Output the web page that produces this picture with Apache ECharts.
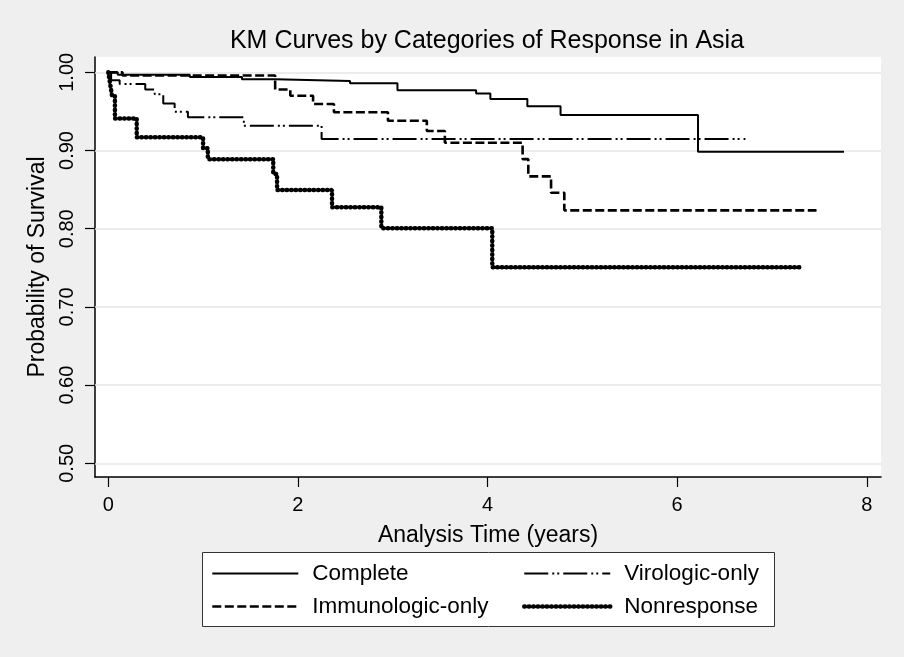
<!DOCTYPE html>
<html><head><meta charset="utf-8">
<script src="https://cdn.jsdelivr.net/npm/echarts@6/dist/echarts.min.js"></script>
<style>html,body{margin:0;padding:0;background:#efefef}#c{width:904px;height:657px}</style>
</head><body><div id="c"></div>
<script>
const chartTitle = 'KM Curves by Categories of Response in Asia';
const xAxisTitle = 'Analysis Time (years)';
const yAxisTitle = 'Probability of Survival';
const xTicks = [0, 2, 4, 6, 8];
const yTicks = [0.5, 0.6, 0.7, 0.8, 0.9, 1.0];
const seriesNames = ['Complete', 'Immunologic-only', 'Virologic-only', 'Nonresponse'];

const completeT = [0, 0.10, 0.86, 1.41, 1.76, 2.55, 3.05, 3.88, 4.03, 4.42, 4.77, 6.22, 7.76];
const completeS = [1.000, 0.997, 0.994, 0.991, 0.989, 0.986, 0.977, 0.973, 0.966, 0.9565, 0.9454, 0.8985, 0.8985];

const immunoT = [0, 0.15, 1.76, 1.92, 2.16, 2.38, 2.95, 3.36, 3.55, 4.37, 4.43, 4.67, 4.81, 7.47];
const immunoS = [1.000, 0.996, 0.978, 0.970, 0.9595, 0.949, 0.938, 0.925, 0.910, 0.889, 0.867, 0.846, 0.8235, 0.8235];

const viroT = [0, 0.03, 0.12, 0.39, 0.49, 0.58, 0.70, 0.84, 1.43, 2.25, 6.72];
const viroS = [1.000, 0.990, 0.985, 0.978, 0.972, 0.960, 0.9496, 0.9425, 0.9317, 0.9147, 0.9147];

const nonrespT = [0, 0.02, 0.04, 0.07, 0.30, 1.00, 1.05, 1.74, 1.78, 2.36, 2.88, 4.05, 7.29];
const nonrespS = [1.000, 0.985, 0.970, 0.941, 0.917, 0.903, 0.889, 0.870, 0.8495, 0.8274, 0.8005, 0.7506, 0.7506];

const zip = (t, s) => t.map((v, i) => [v, s[i]]);
const FONT = '"Liberation Sans", Arial, Helvetica, sans-serif';

const styles = {
  'Complete': { width: 2, type: 'solid' },
  'Immunologic-only': { width: 2.6, type: [9, 3.5] },
  'Virologic-only': { width: 2, type: [24, 4, 2, 3, 2, 4] },
  'Nonresponse': { width: 4.5, type: [0.5, 4], cap: 'round' }
};

const chart = echarts.init(document.getElementById('c'));

function km(name, t, s, z) {
  return {
    name: name, type: 'line', step: 'end', data: zip(t, s),
    symbol: 'none', showSymbol: false, animation: false, z: z,
    lineStyle: Object.assign({ color: '#000' }, styles[name]),
    itemStyle: { color: '#000' }
  };
}

function legendItem(name) {
  return { name: name, itemStyle: { opacity: 0, color: 'rgba(0,0,0,0)', borderWidth: 0 },
    lineStyle: Object.assign({ color: '#000', opacity: 1 }, styles[name]) };
}

const legendCommon = {
  orient: 'vertical', padding: 0, itemWidth: 86, itemHeight: 14, itemGap: 10,
  selectedMode: false,
  textStyle: { fontFamily: FONT, fontSize: 22.5, color: '#000', lineHeight: 22, padding: [0, 0, 0, 9] }
};

chart.setOption({
  backgroundColor: '#efefef',
  animation: false,
  grid: { left: 95, right: 23, top: 57, bottom: 180, show: true, backgroundColor: '#ffffff', borderWidth: 0 },
  xAxis: {
    type: 'value', min: -0.14, max: 8.15,
    name: xAxisTitle, nameLocation: 'middle', nameGap: 47,
    nameTextStyle: { fontFamily: FONT, fontSize: 23, color: '#000' },
    axisLine: { show: true, onZero: false, lineStyle: { color: '#000', width: 1.5 } },
    axisTick: { show: true, length: 10, customValues: xTicks, lineStyle: { color: '#000', width: 1.2 } },
    axisLabel: { customValues: xTicks, margin: 18, fontFamily: FONT, fontSize: 20, color: '#000' },
    splitLine: { show: false }
  },
  yAxis: {
    type: 'value', min: 0.4825, max: 1.0196,
    name: yAxisTitle, nameLocation: 'middle', nameGap: 40,
    nameTextStyle: { fontFamily: FONT, fontSize: 23, color: '#000' },
    axisLine: { show: true, onZero: false, lineStyle: { color: '#000', width: 1.5 } },
    axisTick: { show: true, length: 10, customValues: yTicks, lineStyle: { color: '#000', width: 1.2 } },
    axisLabel: { customValues: yTicks, rotate: 90, margin: 18, fontFamily: FONT, fontSize: 20, color: '#000',
      formatter: v => v.toFixed(2) },
    splitLine: { show: false }
  },
  legend: [
    Object.assign({}, legendCommon, { left: 211, top: 562, data: ['Complete', 'Immunologic-only'].map(legendItem) }),
    Object.assign({}, legendCommon, { left: 522, top: 562, data: ['Virologic-only', 'Nonresponse'].map(legendItem) })
  ],
  graphic: [
    { type: 'rect', left: 202, top: 552, shape: { width: 572, height: 74 }, z: -1,
      style: { fill: '#ffffff', stroke: '#333', lineWidth: 1 } },
    { type: 'text', x: 487, y: 41, z: 10,
      style: { text: chartTitle, font: '25px ' + FONT, fill: '#000', textAlign: 'center', textVerticalAlign: 'middle' } }
  ],
  series: [
    {
      name: 'gridlines', type: 'line', data: [], silent: true, z: 1,
      markLine: {
        silent: true, symbol: 'none', animation: false, label: { show: false }, z: 1,
        lineStyle: { color: '#e6e6e6', width: 1.5, type: 'solid' },
        data: yTicks.map(v => ({ yAxis: v }))
      }
    },
    km(seriesNames[0], completeT, completeS, 3),
    km(seriesNames[1], immunoT, immunoS, 3),
    km(seriesNames[2], viroT, viroS, 3),
    km(seriesNames[3], nonrespT, nonrespS, 4)
  ]
});
</script></body></html>
